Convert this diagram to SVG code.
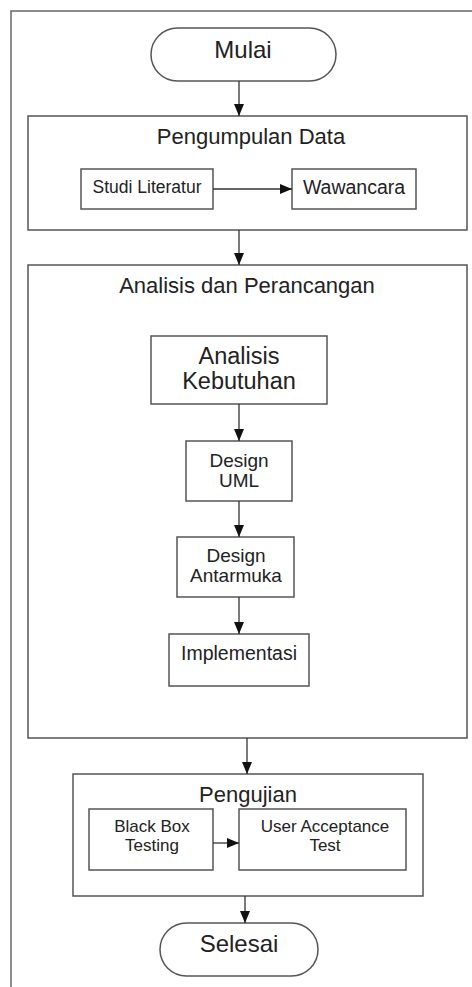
<svg xmlns="http://www.w3.org/2000/svg" width="472" height="987" viewBox="0 0 472 987">
<defs>
<marker id="ah" markerWidth="12" markerHeight="12" viewBox="0 0 12 12" refX="12" refY="6" orient="auto" markerUnits="userSpaceOnUse">
<path d="M0,1 L12,6 L0,11 Z" fill="#111"/>
</marker>
</defs>
<style>
.box{fill:#fff;stroke:#555;stroke-width:1.5}
.frame{fill:none;stroke:#666;stroke-width:1.5}
.t{font-family:"Liberation Sans",Arial,sans-serif;fill:#222;text-anchor:middle}
.edge{stroke:#333;stroke-width:1.3;fill:none;marker-end:url(#ah)}
</style>
<rect width="472" height="987" fill="#fff"/>
<path class="frame" d="M11,987 V11 H472"/>
<g id="mulai">
<rect class="box" x="151" y="28" width="185" height="53" rx="26.5"/>
<text class="t" x="243" y="58" font-size="24">Mulai</text>
</g>
<g id="pengumpulan">
<rect class="box" x="28" y="116" width="439" height="114"/>
<text class="t" x="251" y="144" font-size="22">Pengumpulan Data</text>
</g>
<g id="studi">
<rect class="box" x="81" y="169" width="132" height="40"/>
<text class="t" x="147" y="193" font-size="17.5">Studi Literatur</text>
</g>
<g id="wawancara">
<rect class="box" x="292" y="169" width="124" height="40"/>
<text class="t" x="354" y="194" font-size="19.5">Wawancara</text>
</g>
<g id="analisisPerancangan">
<rect class="box" x="28" y="265" width="439" height="473"/>
<text class="t" x="247" y="293" font-size="22">Analisis dan Perancangan</text>
</g>
<g id="analisisKebutuhan">
<rect class="box" x="151" y="336" width="176" height="68"/>
<text class="t" x="239" y="364" font-size="23.5">Analisis</text>
<text class="t" x="239" y="389" font-size="23.5">Kebutuhan</text>
</g>
<g id="designUML">
<rect class="box" x="186" y="441" width="106" height="60"/>
<text class="t" x="239" y="467" font-size="19">Design</text>
<text class="t" x="239" y="487" font-size="19">UML</text>
</g>
<g id="designAntarmuka">
<rect class="box" x="177" y="537" width="117" height="60"/>
<text class="t" x="236" y="562" font-size="19">Design</text>
<text class="t" x="236" y="582" font-size="19">Antarmuka</text>
</g>
<g id="implementasi">
<rect class="box" x="169" y="634" width="140" height="52"/>
<text class="t" x="239" y="660" font-size="19.5">Implementasi</text>
</g>
<g id="pengujian">
<rect class="box" x="73" y="774" width="350" height="122"/>
<text class="t" x="248" y="802" font-size="22">Pengujian</text>
</g>
<g id="blackbox">
<rect class="box" x="89" y="809" width="124" height="61"/>
<text class="t" x="152" y="832" font-size="17">Black Box</text>
<text class="t" x="152" y="851" font-size="17">Testing</text>
</g>
<g id="uat">
<rect class="box" x="239" y="809" width="167" height="61"/>
<text class="t" x="325" y="832" font-size="17">User Acceptance</text>
<text class="t" x="325" y="851" font-size="17">Test</text>
</g>
<g id="selesai">
<rect class="box" x="160" y="923" width="158" height="53" rx="26.5"/>
<text class="t" x="239" y="952" font-size="24">Selesai</text>
</g>
<g id="connectors">
<line class="edge" x1="239" y1="81" x2="239" y2="116"/>
<line class="edge" x1="213" y1="189" x2="292" y2="189"/>
<line class="edge" x1="239" y1="230" x2="239" y2="265"/>
<line class="edge" x1="239" y1="404" x2="239" y2="441"/>
<line class="edge" x1="239" y1="501" x2="239" y2="537"/>
<line class="edge" x1="239" y1="597" x2="239" y2="634"/>
<line class="edge" x1="247" y1="738" x2="247" y2="774"/>
<line class="edge" x1="213" y1="843" x2="239" y2="843"/>
<line class="edge" x1="245" y1="896" x2="245" y2="923"/>
</g>
</svg>
